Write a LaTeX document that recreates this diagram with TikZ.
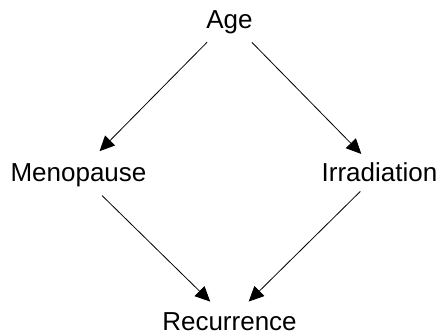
\documentclass[tikz,border=0pt]{standalone}
\usepackage{fontspec}
\setmainfont{Liberation Sans}
\usetikzlibrary{arrows.meta}
\begin{document}
\begin{tikzpicture}[x=1pt,y=1pt,
  lbl/.style={font=\fontsize{26}{30}\selectfont, inner sep=0pt, text height=19pt, text depth=0pt, anchor=center},
  edge/.style={line width=0.8pt, -{Triangle[length=15pt,width=14pt]}}]
\useasboundingbox (0,0) rectangle (442,335);
\node[lbl] (age) at (229.5,315.5) {Age};
\node[lbl] (meno) at (78.5,162.5) {Menopause};
\node[lbl] (irr) at (379.5,162.5) {Irradiation};
\node[lbl] (rec) at (229.5,14.5) {Recurrence};
\draw[edge, shorten <=32pt, shorten >=30pt] (age.center) -- (meno.center);
\draw[edge, shorten <=32pt, shorten >=26pt] (age.center) -- (irr.center);
\draw[edge, shorten <=33pt, shorten >=27pt] (meno.center) -- (rec.center);
\draw[edge, shorten <=27pt, shorten >=27pt] (irr.center) -- (rec.center);
\end{tikzpicture}
\end{document}
